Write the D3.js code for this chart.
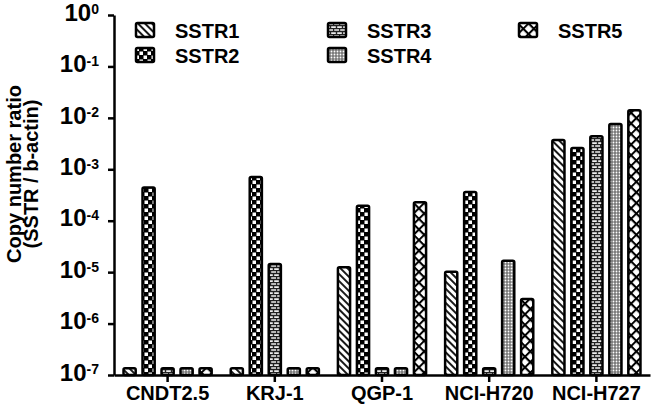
<!DOCTYPE html>
<html lang="en">
<head>
    <meta charset="UTF-8">
    <title>SSTR copy number ratio</title>
    <script src="https://d3js.org/d3.v7.min.js"></script>
    <style>
        body {
            margin: 0;
            background: #fff;
            font-family: "Liberation Sans", Arial, sans-serif;
        }
        .axis path, .axis line {
            stroke: #000;
            stroke-width: 2.5px;
        }
        .axis text {
            font-family: "Liberation Sans", Arial, sans-serif;
            font-weight: bold;
            fill: #000;
        }
        .bar {
            stroke: #000;
            stroke-width: 2.5px;
        }
    </style>
</head>
<body>
    <div id="chart"></div>
    <script>
        // Data
        const categories = ["CNDT2.5", "KRJ-1", "QGP-1", "NCI-H720", "NCI-H727"];
        const seriesNames = ["SSTR1", "SSTR2", "SSTR3", "SSTR4", "SSTR5"];
        const sstr1 = [1.35e-7, 1.35e-7, 1.24e-5, 1.02e-5, 3.7e-3];
        const sstr2 = [4.4e-4, 7.1e-4, 1.96e-4, 3.6e-4, 2.6e-3];
        const sstr3 = [1.35e-7, 1.44e-5, 1.35e-7, 1.35e-7, 4.4e-3];
        const sstr4 = [1.35e-7, 1.35e-7, 1.35e-7, 1.67e-5, 7.6e-3];
        const sstr5 = [1.35e-7, 1.35e-7, 2.28e-4, 3.0e-6, 1.4e-2];
        const yTicks = [1e-7, 1e-6, 1e-5, 1e-4, 1e-3, 1e-2, 1e-1, 1];
        const yTitle = ["Copy number ratio", "(SSTR / b-actin)"];

        const seriesValues = [sstr1, sstr2, sstr3, sstr4, sstr5];

        const width = 658;
        const height = 409;

        const svg = d3.select("#chart")
            .append("svg")
            .attr("width", width)
            .attr("height", height);

        // fill patterns, one per receptor
        const defs = svg.append("defs");

        // SSTR1: diagonal hatch
        const p1 = defs.append("pattern")
            .attr("id", "pat0")
            .attr("patternUnits", "userSpaceOnUse")
            .attr("width", 5).attr("height", 5)
            .attr("patternTransform", "rotate(-45)");
        p1.append("rect").attr("width", 5).attr("height", 5).attr("fill", "#fff");
        p1.append("line").attr("x1", 1).attr("y1", 0).attr("x2", 1).attr("y2", 5)
            .attr("stroke", "#000").attr("stroke-width", 1.8);

        // SSTR2: checker
        const p2 = defs.append("pattern")
            .attr("id", "pat1")
            .attr("patternUnits", "userSpaceOnUse")
            .attr("width", 8).attr("height", 8);
        p2.append("rect").attr("width", 8).attr("height", 8).attr("fill", "#000");
        p2.append("rect").attr("x", 0.5).attr("y", 0.5).attr("width", 3.5).attr("height", 3.5).attr("fill", "#fff");
        p2.append("rect").attr("x", 4.5).attr("y", 4.5).attr("width", 3.5).attr("height", 3.5).attr("fill", "#fff");

        // SSTR3: brick
        const p3 = defs.append("pattern")
            .attr("id", "pat2")
            .attr("patternUnits", "userSpaceOnUse")
            .attr("width", 6).attr("height", 6);
        p3.append("rect").attr("width", 6).attr("height", 6).attr("fill", "#eee");
        p3.append("path")
            .attr("d", "M0,0.5H6M0,3.5H6M0.5,0V3M3.5,3V6")
            .attr("stroke", "#222").attr("stroke-width", 1.4).attr("fill", "none");

        // SSTR4: fine stipple
        const p4 = defs.append("pattern")
            .attr("id", "pat3")
            .attr("patternUnits", "userSpaceOnUse")
            .attr("width", 3).attr("height", 3);
        p4.append("rect").attr("width", 3).attr("height", 3).attr("fill", "#777");
        p4.append("circle").attr("cx", 1.5).attr("cy", 1.5).attr("r", 0.9).attr("fill", "#fff");

        // SSTR5: crosshatch
        const p5 = defs.append("pattern")
            .attr("id", "pat4")
            .attr("patternUnits", "userSpaceOnUse")
            .attr("width", 7.5).attr("height", 7.5)
            .attr("patternTransform", "rotate(45)");
        p5.append("rect").attr("width", 7.5).attr("height", 7.5).attr("fill", "#fff");
        p5.append("path")
            .attr("d", "M1,0V7.5M0,1H7.5")
            .attr("stroke", "#000").attr("stroke-width", 2).attr("fill", "none");

        // scales
        const x0 = d3.scaleBand()
            .domain(categories)
            .range([114, 650]);

        const x1 = d3.scaleBand()
            .domain(seriesNames)
            .range([x0.bandwidth() / 2 - 47.5, x0.bandwidth() / 2 + 47.5])
            .paddingInner(0.36)
            .paddingOuter(0.18);

        const y = d3.scaleLog()
            .domain([1e-7, 1])
            .range([375, 15]);

        // bars
        const rows = [];
        categories.forEach((c, i) => {
            seriesNames.forEach((s, j) => {
                rows.push({ cat: c, series: s, idx: j, value: seriesValues[j][i] });
            });
        });

        svg.append("g")
            .selectAll("rect")
            .data(rows)
            .enter().append("rect")
            .attr("class", "bar")
            .attr("x", d => x0(d.cat) + x1(d.series))
            .attr("y", d => y(d.value))
            .attr("width", x1.bandwidth())
            .attr("height", d => y(1e-7) - y(d.value))
            .attr("rx", 1.5)
            .attr("fill", d => "url(#pat" + d.idx + ")");

        // y axis
        const yAxis = svg.append("g")
            .attr("class", "axis")
            .attr("transform", "translate(114,0)")
            .call(d3.axisLeft(y)
                .tickValues(yTicks)
                .tickSize(6)
                .tickSizeOuter(0)
                .tickPadding(9)
                .tickFormat(""));

        yAxis.selectAll(".tick text").each(function(d) {
            const t = d3.select(this);
            const p = Math.round(Math.log10(d));
            t.attr("dy", "0.22em").style("font-size", "24px");
            t.append("tspan").text("10");
            t.append("tspan")
                .attr("dy", "-0.45em")
                .style("font-size", "14px")
                .text(String(p));
        });

        // x axis
        svg.append("g")
            .attr("class", "axis")
            .attr("transform", "translate(0,375)")
            .call(d3.axisBottom(x0)
                .tickSize(7)
                .tickSizeOuter(0)
                .tickPadding(4))
            .selectAll("text")
            .style("font-size", "20px");

        // y axis title
        const title = svg.append("text")
            .attr("transform", "translate(21,174) rotate(-90)")
            .attr("text-anchor", "middle")
            .style("font-size", "20px")
            .style("font-weight", "bold");
        title.append("tspan").attr("x", 0).attr("y", 0).text(yTitle[0]);
        title.append("tspan").attr("x", 0).attr("y", 17).text(yTitle[1]);

        // legend
        const legendPos = [
            [135, 22], [135, 47], [327, 22], [327, 47], [518, 22]
        ];
        const legend = svg.append("g")
            .selectAll("g")
            .data(seriesNames)
            .enter().append("g")
            .attr("transform", (d, i) => "translate(" + legendPos[i][0] + "," + legendPos[i][1] + ")");

        legend.append("rect")
            .attr("x", 1).attr("y", 1)
            .attr("width", 18).attr("height", 14)
            .attr("rx", 1.5)
            .attr("fill", (d, i) => "url(#pat" + i + ")")
            .attr("stroke", "#000")
            .attr("stroke-width", 2.5);

        legend.append("text")
            .attr("x", 40)
            .attr("y", 16)
            .style("font-size", "20px")
            .style("font-weight", "bold")
            .text(d => d);
    </script>
</body>
</html>
